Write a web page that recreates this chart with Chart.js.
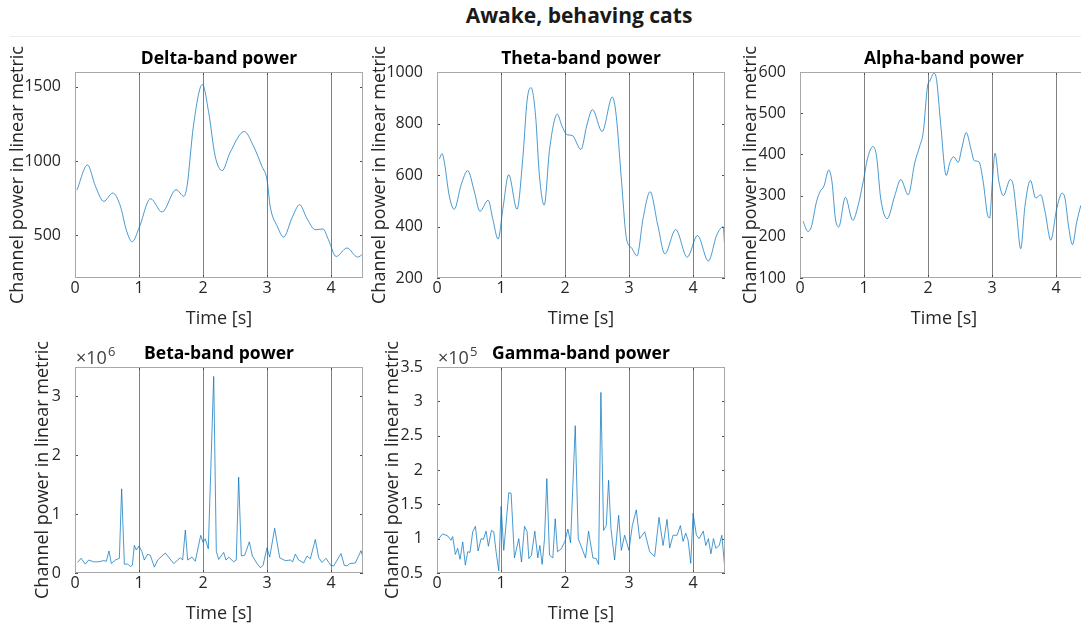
<!DOCTYPE html>
<html>
<head>
<meta charset="utf-8">
<script src="https://cdn.jsdelivr.net/npm/chart.js@4.4.0/dist/chart.umd.min.js"></script>
<style>
  html, body { margin: 0; padding: 0; background: #fff; }
  body { width: 1081px; height: 632px; position: relative; overflow: hidden; font-family: 'Open Sans', sans-serif; }
  #mainTitle { position: absolute; left: 379px; width: 400px; top: 5px; text-align: center; font-weight: bold; font-size: 21px; line-height: 21px; color: #1a1a1a; }
  #topRule { position: absolute; left: 10px; right: 0; top: 36px; height: 1px; background: #ededed; }
  canvas { position: absolute; }
</style>
</head>
<body>
<div id="mainTitle">Awake, behaving cats</div>
<div id="topRule"></div>
<script>
// shared time axis ticks (seconds)
const timeTicks = [0, 1, 2, 3, 4];

// Delta band
const deltaTime = [0.03, 0.195, 0.32, 0.45, 0.59, 0.71, 0.80, 0.895, 1.0, 1.18, 1.36, 1.58, 1.70, 1.75, 1.85, 1.99, 2.09, 2.19, 2.30, 2.42, 2.645, 2.79, 2.92, 3.0, 3.05, 3.16, 3.26, 3.39, 3.51, 3.62, 3.755, 3.875, 3.96, 4.08, 4.25, 4.415, 4.5];
const deltaPower = [805, 974, 830, 729, 785, 696, 538, 457, 549, 747, 657, 808, 763, 830, 1235, 1516, 1325, 1033, 936, 1055, 1199, 1100, 965, 875, 695, 561, 489, 617, 707, 617, 538, 543, 471, 358, 415, 354, 374];
const deltaTicks = [500, 1000, 1500];

// Theta band
const thetaTime = [0.037, 0.08, 0.115, 0.19, 0.27, 0.375, 0.48, 0.585, 0.67, 0.80, 0.87, 0.955, 1.03, 1.12, 1.25, 1.34, 1.41, 1.47, 1.54, 1.60, 1.675, 1.76, 1.88, 1.95, 2.035, 2.11, 2.25, 2.34, 2.43, 2.58, 2.74, 2.80, 2.88, 2.96, 3.04, 3.125, 3.22, 3.33, 3.45, 3.56, 3.73, 3.91, 4.07, 4.24, 4.37, 4.47, 4.5];
const thetaPower = [663, 683, 650, 521, 467, 560, 617, 534, 459, 502, 431, 351, 470, 601, 467, 663, 895, 939, 831, 599, 483, 702, 836, 792, 756, 754, 699, 792, 854, 769, 903, 831, 586, 354, 317, 286, 431, 535, 405, 294, 388, 281, 365, 266, 366, 399, 302];
const thetaTicks = [200, 400, 600, 800, 1000];

// Alpha band
const alphaTime = [0.047, 0.125, 0.177, 0.256, 0.308, 0.376, 0.449, 0.50, 0.553, 0.605, 0.709, 0.824, 0.908, 0.991, 1.054, 1.137, 1.195, 1.262, 1.362, 1.481, 1.575, 1.69, 1.795, 1.873, 1.925, 1.993, 2.029, 2.092, 2.133, 2.196, 2.285, 2.343, 2.40, 2.473, 2.525, 2.598, 2.671, 2.723, 2.796, 2.864, 2.932, 2.963, 3.005, 3.047, 3.109, 3.177, 3.286, 3.333, 3.386, 3.448, 3.516, 3.60, 3.683, 3.761, 3.83, 3.918, 4.011, 4.095, 4.142, 4.194, 4.257, 4.324, 4.387];
const alphaPower = [238, 213, 224, 284, 308, 324, 362, 333, 244, 224, 296, 240, 276, 337, 389, 419, 397, 292, 244, 300, 339, 302, 381, 421, 453, 566, 578, 597, 582, 477, 349, 381, 394, 381, 413, 453, 413, 385, 382, 332, 252, 246, 333, 403, 333, 300, 339, 324, 252, 171, 276, 337, 294, 302, 260, 192, 268, 306, 292, 228, 181, 236, 276];
const alphaTicks = [100, 200, 300, 400, 500, 600];

// Beta band (values in units of 1e6)
const betaTime = [0.042, 0.094, 0.161, 0.214, 0.292, 0.37, 0.448, 0.49, 0.531, 0.568, 0.63, 0.693, 0.729, 0.771, 0.823, 0.865, 0.896, 0.927, 0.958, 1.0, 1.047, 1.083, 1.135, 1.177, 1.24, 1.292, 1.411, 1.542, 1.646, 1.682, 1.724, 1.76, 1.828, 1.88, 1.964, 2.0, 2.036, 2.083, 2.167, 2.208, 2.245, 2.323, 2.359, 2.401, 2.479, 2.52, 2.557, 2.599, 2.651, 2.724, 2.771, 2.844, 2.896, 2.938, 3.0, 3.042, 3.12, 3.198, 3.286, 3.365, 3.401, 3.443, 3.495, 3.573, 3.625, 3.677, 3.755, 3.807, 3.859, 3.922, 3.995, 4.042, 4.156, 4.208, 4.25, 4.292, 4.38, 4.469, 4.5];
const betaPower = [0.18, 0.25, 0.15, 0.22, 0.19, 0.19, 0.21, 0.20, 0.375, 0.16, 0.22, 0.25, 1.43, 0.15, 0.15, 0.11, 0.13, 0.47, 0.39, 0.46, 0.36, 0.22, 0.32, 0.30, 0.10, 0.22, 0.34, 0.16, 0.26, 0.22, 0.73, 0.22, 0.27, 0.20, 0.64, 0.52, 0.58, 0.41, 3.34, 0.37, 0.23, 0.35, 0.22, 0.27, 0.19, 0.22, 1.63, 0.29, 0.30, 0.53, 0.29, 0.16, 0.09, 0.13, 0.43, 0.27, 0.76, 0.26, 0.21, 0.22, 0.19, 0.32, 0.22, 0.17, 0.29, 0.24, 0.57, 0.26, 0.18, 0.25, 0.13, 0.12, 0.33, 0.13, 0.12, 0.16, 0.17, 0.38, 0.26];
const betaTicks = [0, 1, 2, 3];

// Gamma band (values in units of 1e5)
const gammaTime = [0.026, 0.089, 0.167, 0.219, 0.245, 0.287, 0.323, 0.36, 0.402, 0.443, 0.48, 0.516, 0.558, 0.6, 0.642, 0.689, 0.725, 0.767, 0.803, 0.85, 0.887, 0.923, 0.965, 1.002, 1.043, 1.122, 1.158, 1.21, 1.278, 1.32, 1.367, 1.408, 1.435, 1.476, 1.528, 1.575, 1.607, 1.643, 1.68, 1.716, 1.758, 1.81, 1.847, 1.883, 1.941, 1.998, 2.045, 2.087, 2.16, 2.207, 2.28, 2.321, 2.368, 2.436, 2.488, 2.525, 2.561, 2.603, 2.645, 2.681, 2.718, 2.775, 2.838, 2.88, 2.932, 2.999, 3.052, 3.114, 3.166, 3.245, 3.323, 3.401, 3.469, 3.532, 3.594, 3.636, 3.688, 3.751, 3.803, 3.845, 3.886, 3.923, 3.965, 4.001, 4.053, 4.095, 4.16, 4.2, 4.24, 4.28, 4.32, 4.356, 4.41, 4.45, 4.49];
const gammaPower = [1.0, 1.07, 1.04, 0.976, 1.03, 0.77, 0.86, 0.70, 0.95, 0.615, 0.81, 0.80, 1.10, 1.18, 0.82, 1.0, 0.99, 1.11, 0.89, 1.12, 1.10, 0.81, 0.53, 1.47, 0.83, 1.67, 1.66, 0.72, 1.0, 0.66, 1.18, 1.10, 0.71, 0.76, 1.11, 0.72, 0.90, 0.625, 1.0, 1.875, 0.76, 0.72, 1.29, 0.81, 0.85, 0.96, 1.14, 0.94, 2.645, 1.0, 0.82, 0.72, 1.11, 0.72, 0.71, 0.625, 3.13, 1.12, 1.19, 1.85, 1.15, 0.69, 1.34, 0.83, 1.05, 0.83, 1.19, 1.42, 1.0, 1.10, 0.81, 0.74, 1.31, 0.90, 1.28, 0.865, 1.05, 1.05, 1.19, 0.96, 1.08, 0.98, 0.64, 1.37, 1.05, 1.0, 1.11, 0.90, 1.0, 0.78, 1.0, 0.86, 0.90, 1.05, 0.64];
const gammaTicks = [0.5, 1, 1.5, 2, 2.5, 3, 3.5];

const PLOT_W = 288, PLOT_H = 206;
const TITLE_H = 26, XAXIS_H = 52, RIGHT_PAD = 10;
const LABEL_FONT = 18, TICK_FONT = 16;

Chart.defaults.font.family = "'Open Sans', sans-serif";

// MATLAB-like box, inward tick marks and the x10^n exponent label
const frameAndTicks = {
    id: 'frameAndTicks',
    afterDraw(chart, args, opts) {
        const { ctx, chartArea: a, scales } = chart;
        ctx.save();
        ctx.lineWidth = 1;
        ctx.strokeStyle = '#4d4d4d';
        ctx.beginPath();
        scales.y.ticks.forEach(t => {
            const py = Math.round(scales.y.getPixelForValue(t.value)) + 0.5;
            ctx.moveTo(a.left, py); ctx.lineTo(a.left + 3, py);
            ctx.moveTo(a.right, py); ctx.lineTo(a.right - 3, py);
        });
        scales.x.ticks.forEach(t => {
            const px = Math.round(scales.x.getPixelForValue(t.value)) + 0.5;
            ctx.moveTo(px, a.bottom); ctx.lineTo(px, a.bottom - 3);
            ctx.moveTo(px, a.top); ctx.lineTo(px, a.top + 3);
        });
        ctx.stroke();
        ctx.strokeStyle = '#a8a8a8';
        ctx.strokeRect(Math.round(a.left) + 0.5, Math.round(a.top) + 0.5, Math.round(a.width) - 1, Math.round(a.height) - 1);
        if (opts.exponent) {
            ctx.fillStyle = '#404040';
            ctx.textBaseline = 'alphabetic';
            ctx.textAlign = 'left';
            ctx.font = "18px 'Open Sans', sans-serif";
            const base = '\u00d710';
            ctx.fillText(base, a.left + 1, a.top - 3);
            const w = ctx.measureText(base).width;
            ctx.font = "13px 'Open Sans', sans-serif";
            ctx.fillText(opts.exponent, a.left + 2 + w, a.top - 11);
        }
        ctx.restore();
    }
};

const panels = [
    { title: 'Delta-band power', time: deltaTime, power: deltaPower, yMin: 213, yMax: 1600, yTicks: deltaTicks, smooth: true, labelX: 18, plotLeft: 75, plotTop: 72 },
    { title: 'Theta-band power', time: thetaTime, power: thetaPower, yMin: 200, yMax: 1000, yTicks: thetaTicks, smooth: true, labelX: 380, plotLeft: 437, plotTop: 72 },
    { title: 'Alpha-band power', time: alphaTime, power: alphaPower, yMin: 100, yMax: 600, yTicks: alphaTicks, smooth: true, labelX: 751, plotLeft: 800, plotTop: 72 },
    { title: 'Beta-band power', time: betaTime, power: betaPower, yMin: 0, yMax: 3.5, yTicks: betaTicks, smooth: false, labelX: 43, plotLeft: 75, plotTop: 367, exponent: '6' },
    { title: 'Gamma-band power', time: gammaTime, power: gammaPower, yMin: 0.5, yMax: 3.5, yTicks: gammaTicks, smooth: false, labelX: 393, plotLeft: 437, plotTop: 367, exponent: '5' }
];

function buildPanel(p) {
    const left = p.labelX - 12;
    const yw = p.plotLeft - left;
    const canvas = document.createElement('canvas');
    canvas.width = yw + PLOT_W + RIGHT_PAD;
    canvas.height = TITLE_H + PLOT_H + XAXIS_H;
    canvas.style.left = left + 'px';
    canvas.style.top = (p.plotTop - TITLE_H) + 'px';
    document.body.appendChild(canvas);

    new Chart(canvas, {
        type: 'line',
        data: {
            datasets: [{
                data: p.time.map((t, i) => ({ x: t, y: p.power[i] })),
                borderColor: 'rgba(0,114,189,0.8)',
                borderWidth: 0.9,
                pointRadius: 0,
                fill: false,
                tension: 0,
                cubicInterpolationMode: p.smooth ? 'monotone' : 'default'
            }]
        },
        options: {
            responsive: false,
            animation: false,
            events: [],
            layout: { padding: { right: RIGHT_PAD } },
            plugins: {
                legend: { display: false },
                tooltip: { enabled: false },
                title: {
                    display: true, text: p.title, fullSize: false, color: '#000',
                    font: { size: 17.5, weight: 'bold' }, padding: { top: 2.5, bottom: 2.5 }
                },
                frameAndTicks: { exponent: p.exponent }
            },
            scales: {
                x: {
                    type: 'linear', min: 0, max: 4.5,
                    afterBuildTicks: s => { s.ticks = timeTicks.map(v => ({ value: v })); },
                    afterFit: s => { s.height = XAXIS_H; },
                    grid: {
                        drawTicks: false, lineWidth: 1,
                        color: c => (c.tick && c.tick.value === 0) ? 'rgba(0,0,0,0)' : '#808080'
                    },
                    border: { display: false },
                    ticks: { color: '#262626', font: { size: TICK_FONT }, padding: 1, maxRotation: 0, callback: v => String(v) },
                    title: { display: true, text: 'Time [s]', color: '#262626', font: { size: LABEL_FONT }, padding: { top: 3, bottom: 0 } }
                },
                y: {
                    min: p.yMin, max: p.yMax,
                    afterBuildTicks: s => { s.ticks = p.yTicks.map(v => ({ value: v })); },
                    afterFit: s => { s.width = yw; },
                    grid: { display: false },
                    border: { display: false },
                    ticks: { color: '#262626', font: { size: TICK_FONT }, padding: 6, callback: v => String(v) },
                    title: {
                        display: true, text: 'Channel power in linear metric', color: '#262626',
                        font: { size: LABEL_FONT }, padding: { top: 12 - LABEL_FONT * 0.6, bottom: 0 }
                    }
                }
            }
        },
        plugins: [frameAndTicks]
    });
}

panels.forEach(buildPanel);
</script>
</body>
</html>
